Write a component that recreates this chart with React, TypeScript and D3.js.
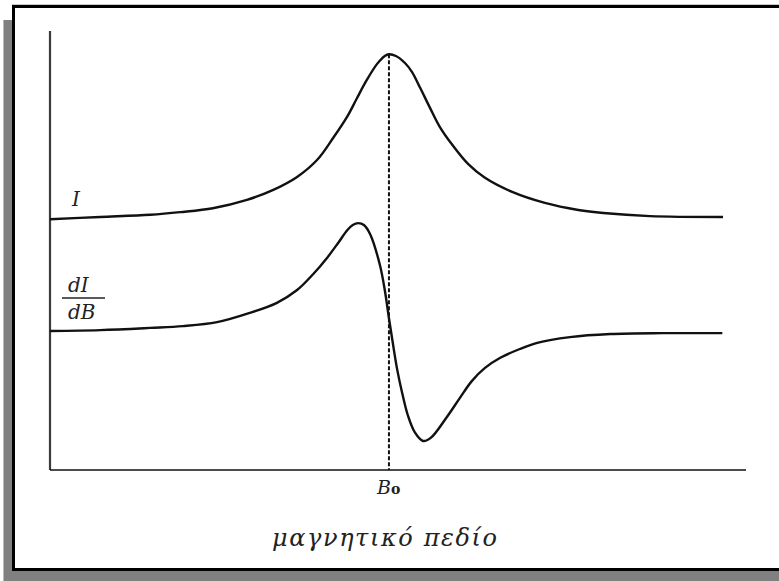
import React from "react";
import * as d3 from "d3";

// Magnetic field (arbitrary units, 0–100 along the horizontal axis)
const fieldI = [0, 7.2, 14.4, 18.7, 23.4, 28.3, 32.0, 35.5, 38.4, 40.7, 42.7, 44.1, 45.5, 47.0, 48.1, 48.7, 49.7, 51.0, 52.0, 53.2, 54.6, 56.0, 57.8, 60.1, 62.5, 66.4, 71.1, 75.9, 79.5, 86.2, 96.7];
// Absorption intensity I
const intensity = [57.0, 57.5, 58.0, 58.6, 59.5, 61.4, 63.6, 66.6, 70.5, 75.5, 80.3, 84.5, 88.6, 92.3, 94.1, 94.5, 94.1, 92.5, 90.5, 86.8, 82.3, 78.0, 73.9, 69.5, 66.4, 63.2, 60.7, 59.1, 58.4, 57.7, 57.5];

const fieldD = [0, 7.2, 14.4, 19.1, 24.0, 28.7, 32.6, 35.5, 37.8, 39.8, 41.4, 42.7, 43.5, 44.3, 45.1, 46.0, 47.4, 48.1, 48.7, 49.3, 49.9, 50.6, 51.4, 52.4, 53.6, 54.7, 57.0, 58.9, 60.6, 62.5, 64.7, 67.5, 70.0, 74.7, 80.5, 88.1, 96.6];
// First derivative dI/dB
const derivative = [31.6, 31.8, 32.3, 32.7, 33.6, 35.7, 38.0, 40.9, 44.5, 48.2, 51.6, 54.5, 55.7, 56.1, 55.7, 53.6, 46.6, 40.9, 34.5, 28.4, 22.7, 17.5, 12.5, 8.6, 6.6, 7.3, 12.0, 16.4, 20.2, 23.2, 25.5, 27.5, 28.9, 30.2, 30.9, 31.1, 31.1];

// Resonance field B0
const resonanceField = 48.7;
const peakValue = 94.5;

const W = 779;
const H = 581;

export default function App() {
  const x = d3.scaleLinear().domain([0, 100]).range([50, 746]);
  const y = d3.scaleLinear().domain([0, 100]).range([470, 30]);

  const line = d3
    .line<[number, number]>()
    .x((d) => x(d[0]))
    .y((d) => y(d[1]))
    .curve(d3.curveCatmullRom.alpha(0.5));

  const iPath = line(fieldI.map((b, i) => [b, intensity[i]]) as [number, number][]) || "";
  const dPath = line(fieldD.map((b, i) => [b, derivative[i]]) as [number, number][]) || "";

  const serif = "'DejaVu Serif', 'Liberation Serif', serif";
  const x0 = x(resonanceField);

  return (
    <svg
      width={W}
      height={H}
      style={{ position: "absolute", left: 0, top: 0, background: "#fff" }}
    >
      {/* drop shadow of the frame */}
      <rect x={3} y={20} width={10} height={H - 20} fill="#808080" />
      <rect x={3} y={571} width={W - 3} height={10} fill="#808080" />
      <line x1={3.5} y1={20} x2={3.5} y2={H} stroke="#b8b8b8" strokeWidth={1} />
      <line x1={12} y1={4.5} x2={W} y2={4.5} stroke="#c8c8c8" strokeWidth={1} />
      {/* frame */}
      <rect x={13.5} y={6.5} width={W + 10} height={563} fill="#fff" stroke="#000" strokeWidth={3} />

      {/* axes */}
      <line x1={x(0)} y1={y(99.8)} x2={x(0)} y2={y(0)} stroke="#3a3a3a" strokeWidth={2.2} />
      <line x1={x(0)} y1={y(0)} x2={x(100)} y2={y(0)} stroke="#111" strokeWidth={1.6} />

      {/* resonance marker */}
      <line
        x1={x0}
        y1={y(peakValue)}
        x2={x0}
        y2={y(0)}
        stroke="#111"
        strokeWidth={2}
        strokeDasharray="4 2"
      />

      {/* curves */}
      <path d={iPath} fill="none" stroke="#111" strokeWidth={2.4} strokeLinejoin="round" />
      <path d={dPath} fill="none" stroke="#111" strokeWidth={2.4} strokeLinejoin="round" />

      {/* curve labels */}
      <text x={72} y={206} fontFamily={serif} fontStyle="italic" fontSize={20} fill="#222">
        I
      </text>
      <text x={68} y={292} fontFamily={serif} fontStyle="italic" fontSize={20} fill="#222">
        dI
      </text>
      <line x1={62} y1={298} x2={105} y2={298} stroke="#222" strokeWidth={1.4} />
      <text x={68} y={319} fontFamily={serif} fontStyle="italic" fontSize={20} fill="#222">
        dB
      </text>

      {/* B0 tick label */}
      <text x={377} y={494} fontFamily={serif} fontStyle="italic" fontSize={19} fill="#222">
        B<tspan fontSize={14} fontWeight="bold" fontStyle="normal">o</tspan>
      </text>

      {/* axis title */}
      <text
        x={272}
        y={546}
        fontFamily={serif}
        fontStyle="italic"
        fontSize={24}
        fill="#222"
        textLength={225}
        lengthAdjust="spacing"
      >
        μαγνητικό πεδίο
      </text>
    </svg>
  );
}
